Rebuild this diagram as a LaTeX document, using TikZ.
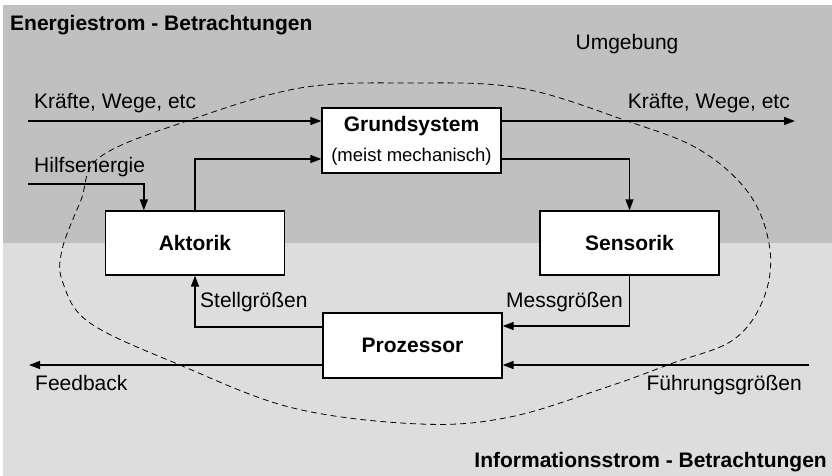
\documentclass[tikz,border=0pt]{standalone}
\usepackage{fontspec}
\setmainfont{Liberation Sans}
\usetikzlibrary{arrows.meta,calc}
\definecolor{energy}{RGB}{192,192,192}
\definecolor{info}{RGB}{221,221,221}
\tikzset{
  block/.style={draw=black, fill=white, line width=1.3pt, inner sep=0pt,
    minimum width=179pt, minimum height=64pt, font=\fontsize{21}{25}\selectfont\bfseries},
  arr/.style={line width=1.4pt, -{Triangle[length=11pt,width=8pt]}},
  lbl/.style={inner sep=0pt, font=\fontsize{21}{25}\selectfont},
  head/.style={inner sep=0pt, font=\fontsize{21}{25}\selectfont\bfseries},
  border/.style={dashed, dash pattern=on 6pt off 4pt, line width=0.8pt}
}
\begin{document}
\begin{tikzpicture}[x=1pt,y=-1pt]
  % background bands
  \fill[white] (0,0) rectangle (832,476);
  \fill[energy] (3,5) rectangle (832,243);
  \fill[info] (3,243) rectangle (832,476);
  \useasboundingbox (0,0) rectangle (832,476);

  % system boundary
  \draw[border] plot[smooth cycle, tension=0.6] coordinates {
    (410,83) (520,88) (627,121) (700,150) (750,195) (770,250) (763,300)
    (733,340) (673,363) (607,387) (510,417) (420,424) (293,408) (180,365)
    (90,323) (63,283) (62,250) (81,200) (100,157) (187,121) (300,88)};

  % blocks
  \node[block, minimum height=65pt, align=center] (G) at (411.5,140.5)
    {Grundsystem\\[5pt]{\fontsize{18.5}{22}\selectfont\mdseries (meist mechanisch)}};
  \node[block] (A) at (195,243) {Aktorik};
  \node[block] (S) at (629.5,243) {Sensorik};
  \node[block, minimum height=65pt] (P) at (412.5,345.5) {Prozessor};

  % free ends
  \coordinate (kin) at (28,121);
  \coordinate (kout) at (795,121);
  \coordinate (hin) at (28,184);
  \coordinate (fin) at (809,365);
  \coordinate (fbout) at (29,365);

  % energy flow
  \draw[arr] (kin) -- (kin -| G.west);
  \draw[arr] (kin -| G.east) -- (kout);
  \draw[arr] (hin) -| ($(A.north west)+(39,0)$);
  \draw[arr] (A.north) |- ($(G.west)+(0,18.5)$);
  \draw[arr] ($(G.east)+(0,18.5)$) -| (S.north);

  % information flow
  \draw[arr] (S.south) |- ($(P.east)+(0,-19.5)$);
  \draw[arr] (fin) -- (fin -| P.east);
  \draw[arr] ($(P.west)+(0,-18.5)$) -| (A.south);
  \draw[arr] ($(P.west)+(0,19.5)$) -- (fbout);

  % labels
  \node[head, anchor=base west] (eh) at (10,31) {Energiestrom - Betrachtungen};
  \node[head, anchor=base east] (ih) at (827,467) {Informationsstrom - Betrachtungen};
  \node[lbl, anchor=base] (umg) at (627,50) {Umgebung};
  \node[lbl, anchor=base west] (k1) at (34,109) {Kräfte, Wege, etc};
  \node[lbl, anchor=base east] (k2) at (790,109) {Kräfte, Wege, etc};
  \node[lbl, anchor=base west] (hl) at (34,172) {Hilfsenergie};
  \node[lbl, anchor=base west] (sl) at (200,307) {Stellgrößen};
  \node[lbl, anchor=base east] (ml) at (623,307) {Messgrößen};
  \node[lbl, anchor=base west] (fbl) at (35,390) {Feedback};
  \node[lbl, anchor=base east] (fl) at (802,390) {Führungsgrößen};
\end{tikzpicture}
\end{document}
